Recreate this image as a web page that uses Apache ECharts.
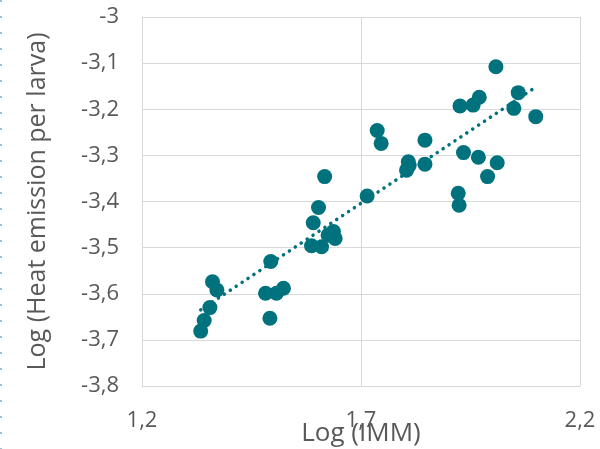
<!DOCTYPE html>
<html>
<head>
<meta charset="utf-8">
<script src="https://cdn.jsdelivr.net/npm/echarts@6/dist/echarts.min.js"></script>
<style>
  html, body { margin: 0; padding: 0; background: #fff; }
  #chart { width: 600px; height: 449px; }
</style>
</head>
<body>
<div id="chart"></div>
<script>
// 数据: Log(IMM) 与 Log(每只幼虫产热)
const logImm = [
  1.334, 1.342, 1.355, 1.361, 1.371, 1.482, 1.494, 1.492, 1.507, 1.523,
  1.587, 1.610, 1.617, 1.603, 1.591, 1.625, 1.637, 1.641, 1.714, 1.737,
  1.746, 1.846, 1.808, 1.804, 1.810, 1.846, 1.934, 1.922, 1.924, 2.008,
  1.926, 1.956, 1.970, 2.059, 2.049, 2.099, 1.968, 2.011, 1.989
]
const logHeat = [
  -3.681, -3.658, -3.630, -3.574, -3.592, -3.599, -3.530, -3.653, -3.599, -3.588,
  -3.496, -3.498, -3.346, -3.413, -3.446, -3.473, -3.465, -3.480, -3.388, -3.246,
  -3.274, -3.267, -3.314, -3.332, -3.322, -3.319, -3.294, -3.382, -3.408, -3.108,
  -3.193, -3.191, -3.174, -3.164, -3.198, -3.216, -3.304, -3.316, -3.346
]
// 趋势线端点
const trendX = [1.334, 2.099]
const trendY = [-3.635, -3.152]

const xTicks = { min: 1.2, max: 2.2, interval: 0.5 }
const yTicks = { min: -3.8, max: -3, interval: 0.1 }

const teal = '#00727E'
const textColor = '#595959'
const gridColor = '#d9d9d9'
const font = 'Open Sans'

const fmt = (v) => String(Math.round(v * 10) / 10).replace('.', ',')

const chart = echarts.init(document.getElementById('chart'))

chart.setOption({
  animation: false,
  grid: { left: 142, right: 20, top: 17, bottom: 63, containLabel: false, outerBoundsMode: 'none' },
  xAxis: {
    type: 'value',
    min: xTicks.min,
    max: xTicks.max,
    interval: xTicks.interval,
    name: 'Log (IMM)',
    nameLocation: 'middle',
    nameGap: 35,
    nameMoveOverlap: false,
    nameTextStyle: { color: textColor, fontSize: 26, fontFamily: font },
    axisLine: { show: true, lineStyle: { color: gridColor, width: 1 } },
    axisTick: { show: false },
    axisLabel: { color: textColor, fontSize: 22, fontFamily: font, margin: 24, formatter: fmt },
    splitLine: { show: true, lineStyle: { color: gridColor, width: 1 } }
  },
  yAxis: {
    type: 'value',
    min: yTicks.min,
    max: yTicks.max,
    interval: yTicks.interval,
    name: 'Log (Heat emission per larva)',
    nameLocation: 'middle',
    nameGap: 92,
    nameMoveOverlap: false,
    nameTextStyle: { color: textColor, fontSize: 25, fontFamily: font },
    axisLine: { show: true, lineStyle: { color: gridColor, width: 1 } },
    axisTick: { show: false },
    axisLabel: { color: textColor, fontSize: 22, fontFamily: font, margin: 23, formatter: fmt },
    splitLine: { show: true, lineStyle: { color: gridColor, width: 1 } }
  },
  graphic: [
    {
      type: 'line',
      shape: { x1: 1, y1: 0, x2: 1, y2: 449 },
      style: { stroke: '#9dbfdc', lineWidth: 2, lineDash: [2, 14] }
    }
  ],
  series: [
    {
      name: 'trend',
      type: 'line',
      data: trendX.map((x, i) => [x, trendY[i]]),
      symbol: 'none',
      z: 1,
      lineStyle: { color: teal, width: 3.5, type: [0.1, 7], cap: 'round' }
    },
    {
      name: 'data',
      type: 'scatter',
      data: logImm.map((x, i) => [x, logHeat[i]]),
      symbol: 'circle',
      symbolSize: 15,
      z: 2,
      itemStyle: { color: teal, opacity: 1 }
    }
  ]
})
</script>
</body>
</html>
